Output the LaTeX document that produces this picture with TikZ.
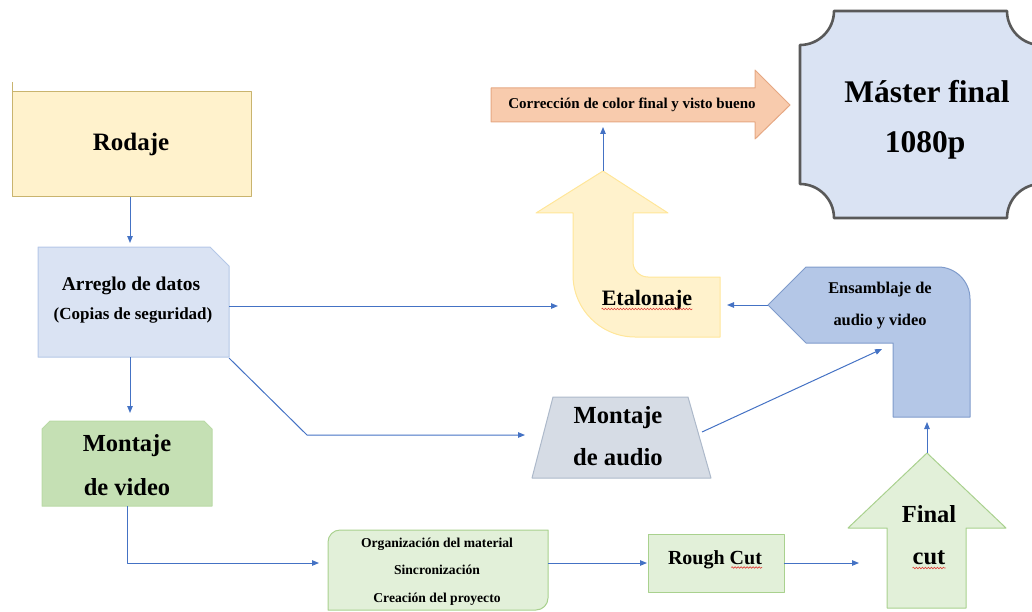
\documentclass[tikz,border=0pt]{standalone}
\usepackage{fontspec}
\setmainfont{Liberation Serif}
\usetikzlibrary{arrows.meta,decorations.pathmorphing,calc}
\definecolor{connblue}{HTML}{4472C4}
\definecolor{rodF}{HTML}{FFF2CC}
\definecolor{rodB}{HTML}{C9B46E}
\definecolor{arrF}{HTML}{DAE3F3}
\definecolor{arrB}{HTML}{B4C7E7}
\definecolor{mvF}{HTML}{C5E0B4}
\definecolor{mvB}{HTML}{BADAA6}
\definecolor{grF}{HTML}{E2F0D9}
\definecolor{grB}{HTML}{A9D18E}
\definecolor{maF}{HTML}{D6DCE5}
\definecolor{maB}{HTML}{ADB9CA}
\definecolor{enF}{HTML}{B4C7E7}
\definecolor{enB}{HTML}{7F9BCB}
\definecolor{etF}{HTML}{FFF2CC}
\definecolor{etB}{HTML}{FFE699}
\definecolor{coF}{HTML}{F8CBAD}
\definecolor{coB}{HTML}{E6A883}
\definecolor{msF}{HTML}{DAE3F3}
\definecolor{msB}{HTML}{595959}
\definecolor{wavyred}{HTML}{E0403A}
\begin{document}
\begin{tikzpicture}[x=1pt,y=-1pt,line join=round,
  conn/.style={draw=connblue,line width=1pt,-{Triangle[length=7pt,width=5.5pt]}},
  lbl/.style={inner sep=0pt,anchor=base,text=black},
  fs/.style={font=\fontsize{#1}{#1}\selectfont\bfseries},
  wavy/.style={draw=wavyred,line width=0.6pt,decorate,decoration={snake,amplitude=0.8pt,segment length=3pt}},
  shp/.style={line width=1pt}]
\useasboundingbox (0,0) rectangle (1032,612);
\clip (0,0) rectangle (1032,612);

% ---------- Rodaje
\draw[draw=rodB,line width=1pt] (12,82) -- (12,92);
\path[shp,fill=rodF,draw=rodB] (12,92) rectangle (251,197);
\node[lbl,fs=25] (rod) at (131,151) {Rodaje};
\coordinate (rodS) at (130,197);

% ---------- Arreglo de datos
\path[shp,fill=arrF,draw=arrB] (38,247) -- (210,247) -- (229,266) -- (229,357) -- (38,357) -- cycle;
\node[lbl,fs=19.5] (arr1) at (131,290) {Arreglo de datos};
\node[lbl,fs=17] (arr2) at (133,319) {(Copias de seguridad)};
\coordinate (arrN) at (130,243);
\coordinate (arrS) at (130,357);
\coordinate (arrE) at (229,306);
\coordinate (arrSE) at (229,358);

% ---------- Montaje de video
\path[shp,fill=mvF,draw=mvB] (50,421) -- (204,421) -- (212,429) -- (212,506) -- (42,506) -- (42,429) -- cycle;
\node[lbl,fs=24.5] (mv1) at (127,451) {Montaje};
\node[lbl,fs=24.5] (mv2) at (127,495) {de video};
\coordinate (mvN) at (130,413);
\coordinate (mvS) at (127,506);

% ---------- Organizacion
\path[shp,fill=grF,draw=grB] (328,542) .. controls (328,535.4) and (333.4,530) .. (340,530) -- (548,530) -- (548,598)
   .. controls (548,604.6) and (542.6,610) .. (536,610) -- (328,610) -- cycle;
\node[lbl,fs=13.6] (org1) at (437,547) {Organización del material};
\node[lbl,fs=13.6] (org2) at (437,574) {Sincronización};
\node[lbl,fs=13.6] (org3) at (437,602) {Creación del proyecto};
\coordinate (orgW) at (319,563);
\coordinate (orgE) at (548,563);

% ---------- Rough Cut
\path[shp,fill=grF,draw=grB] (648,534) rectangle (784,592);
\node[lbl,fs=20] (rc) at (715,564) {Rough Cut};
\draw[wavy] ([xshift=-31pt,yshift=-3.5pt]rc.base east) -- ([yshift=-3.5pt]rc.base east);
\coordinate (rcW) at (647,563);
\coordinate (rcE) at (784,563);

% ---------- Final cut
\path[shp,fill=grF,draw=grB] (927,453) -- (1006,528) -- (966,528) -- (966,608) -- (887,608) -- (887,528) -- (848,528) -- cycle;
\node[lbl,fs=24.5] (fc1) at (929,522) {Final};
\node[lbl,fs=24.5] (fc2) at (929,564) {cut};
\draw[wavy] ([yshift=-4pt]fc2.base west) -- ([yshift=-4pt]fc2.base east);
\coordinate (fcW) at (859,563);
\coordinate (fcN) at (927,453);

% ---------- Montaje de audio
\path[shp,fill=maF,draw=maB] (553,397) -- (688,397) -- (711,478) -- (532,478) -- cycle;
\node[lbl,fs=24.6] (ma1) at (618,423) {Montaje};
\node[lbl,fs=24.6] (ma2) at (618,465) {de audio};
\coordinate (maW) at (525,435);
\coordinate (maE) at (702,432);
\coordinate (bend) at (307,435);

% ---------- Ensamblaje
\path[shp,fill=enF,draw=enB] (768,305) -- (806,267) -- (938,267) .. controls (955.7,267) and (970,281.3) .. (970,299)
   -- (970,417) -- (893,417) -- (893,343) -- (806,343) -- cycle;
\node[lbl,fs=16.4] (en1) at (880,293.5) {Ensamblaje de};
\node[lbl,fs=16.4] (en2) at (880,325.5) {audio y video};
\coordinate (enW) at (768,305);
\coordinate (enS) at (927,422);
\coordinate (enIn) at (882,349);

% ---------- Etalonaje (bent-up arrow)
\path[shp,fill=etF,draw=etB] (603,171) -- (668,213) -- (633,213) -- (633,262)
   .. controls (633,270.3) and (639.7,277) .. (648,277) -- (720,277) -- (720,337) -- (635,337)
   .. controls (600.8,337) and (573,309.2) .. (573,275) -- (573,213) -- (536,213) -- cycle;
\node[lbl,fs=22] (et) at (647,305) {Etalonaje};
\draw[wavy] ([yshift=-4pt]et.base west) -- ([yshift=-4pt]et.base east);
\coordinate (etW) at (558,306);
\coordinate (etE) at (727,305);
\coordinate (etN) at (603,171);

% ---------- Correccion (right arrow)
\path[shp,fill=coF,draw=coB] (491,88) -- (755,88) -- (755,70) -- (790,105) -- (755,139) -- (755,122) -- (491,122) -- cycle;
\node[lbl,fs=15] (co) at (632,109) {Corrección de color final y visto bueno};
\coordinate (coS) at (603,127);

% ---------- Master final (plaque)
\path[fill=msF,draw=msB,line width=2.6pt] (834,11) -- (1007,11) .. controls (1007,29.7) and (1022.3,45) .. (1041,45)
   -- (1041,184) .. controls (1022.3,184) and (1007,199.3) .. (1007,218)
   -- (834,218) .. controls (834,199.3) and (818.7,184) .. (800,184)
   -- (800,45) .. controls (818.7,45) and (834,29.7) .. (834,11) -- cycle;
\node[lbl,fs=31.5] (ms1) at (927,103) {Máster final};
\node[lbl,fs=31.5] (ms2) at (925,153) {1080p};

% ---------- Connectors
\draw[conn] (rodS) -- (arrN);
\draw[conn] (arrS) -- (mvN);
\draw[conn] (arrE) -- (etW);
\draw[conn] (arrSE) -- (bend) -- (maW);
\draw[conn] (mvS) |- (orgW);
\draw[conn] (orgE) -- (rcW);
\draw[conn] (rcE) -- (fcW);
\draw[conn] (fcN) -- (enS);
\draw[conn] (maE) -- (enIn);
\draw[conn] (enW) -- (etE);
\draw[conn] (etN) -- (coS);
\end{tikzpicture}
\end{document}
